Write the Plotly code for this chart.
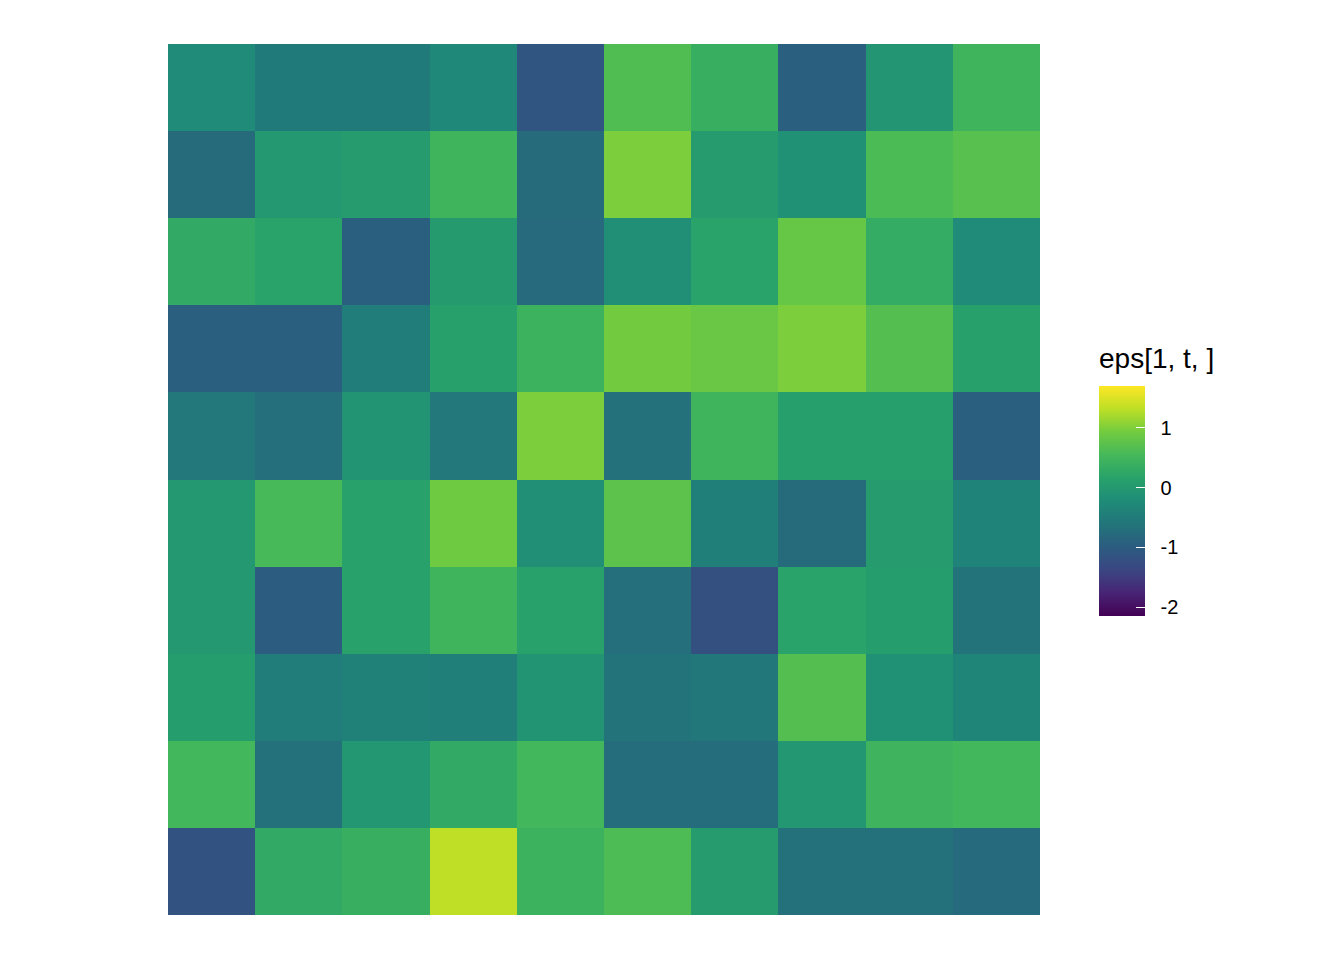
import plotly.graph_objects as go

cols = list(range(1, 11))
rows = list(range(1, 11))

row1 = [-0.25, -0.52, -0.52, -0.29, -1.12, 0.64, 0.37, -0.95, -0.06, 0.48]
row2 = [-0.76, -0.02, 0.06, 0.48, -0.76, 0.98, 0.06, -0.14, 0.60, 0.71]
row3 = [0.29, 0.17, -0.95, 0.02, -0.80, -0.17, 0.17, 0.83, 0.33, -0.25]
row4 = [-0.95, -0.95, -0.48, 0.13, 0.44, 0.93, 0.85, 0.98, 0.67, 0.13]
row5 = [-0.56, -0.72, -0.10, -0.56, 0.98, -0.68, 0.48, 0.10, 0.10, -0.95]
row6 = [-0.02, 0.56, 0.15, 0.90, -0.17, 0.75, -0.45, -0.76, 0.06, -0.37]
row7 = [-0.02, -1.00, 0.15, 0.48, 0.15, -0.70, -1.20, 0.17, 0.08, -0.64]
row8 = [0.08, -0.48, -0.41, -0.45, -0.08, -0.64, -0.58, 0.67, -0.14, -0.35]
row9 = [0.52, -0.68, -0.04, 0.29, 0.52, -0.74, -0.74, -0.04, 0.46, 0.52]
row10 = [-1.15, 0.29, 0.37, 1.33, 0.44, 0.62, 0.04, -0.68, -0.68, -0.78]

z = [row1, row2, row3, row4, row5, row6, row7, row8, row9, row10]

zmin, zmax = -2.15, 1.70
tick_vals = [-2, -1, 0, 1]
tick_text = ["-2", "-1", "0", "1"]
legend_title = "eps[1, t, ]"

scale = [
    [0.0, "#440154"], [0.1, "#482475"], [0.2, "#3a4682"], [0.3, "#2c5c80"],
    [0.4, "#22757a"], [0.5, "#1f8c78"], [0.6, "#28a26a"], [0.7, "#45b85a"],
    [0.8, "#72cb3f"], [0.9, "#bddf26"], [1.0, "#fde725"],
]

OFF = 8  # page body margin
W, H = 1344 - OFF, 960 - OFF
L, T = 168 - OFF, 44 - OFF
R = W - L - 872
B = H - T - 871
pw = W - L - R
ph = H - T - B

# colorbar geometry (screen pixels)
cb_left, cb_right, cb_top, cb_bot = 1099, 1145, 386, 616

def px_x(px):
    return (px - OFF - L) / pw

def px_y(py):
    return (H - B - (py - OFF)) / ph

pad = "\u00a0\u00a0"
fig = go.Figure(go.Heatmap(
    x=cols, y=rows, z=z,
    colorscale=scale, zmin=zmin, zmax=zmax,
    colorbar=dict(
        tickvals=tick_vals, ticktext=[pad + t for t in tick_text],
        ticks="inside", ticklen=9, tickcolor="white", tickwidth=1,
        tickfont=dict(size=20, color="black", family="Liberation Sans, Arial"),
        outlinewidth=0,
        thickness=cb_right - cb_left, thicknessmode="pixels",
        len=cb_bot - cb_top, lenmode="pixels",
        x=px_x(cb_left), xanchor="left", xpad=0,
        y=px_y((cb_top + cb_bot) / 2), yanchor="middle", ypad=0,
    ),
))

fig.update_layout(
    width=W, height=H,
    margin=dict(l=L, r=R, t=T, b=B, autoexpand=False),
    paper_bgcolor="white", plot_bgcolor="white",
    xaxis=dict(visible=False, range=[0.5, 10.5]),
    yaxis=dict(visible=False, range=[10.5, 0.5]),
    annotations=[dict(text=legend_title, xref="paper", yref="paper",
                      x=px_x(cb_left - 2), y=px_y(376), xanchor="left", yanchor="bottom",
                      showarrow=False,
                      font=dict(size=28, color="black", family="Liberation Sans, Arial"))],
)

fig.write_html("out.html")
